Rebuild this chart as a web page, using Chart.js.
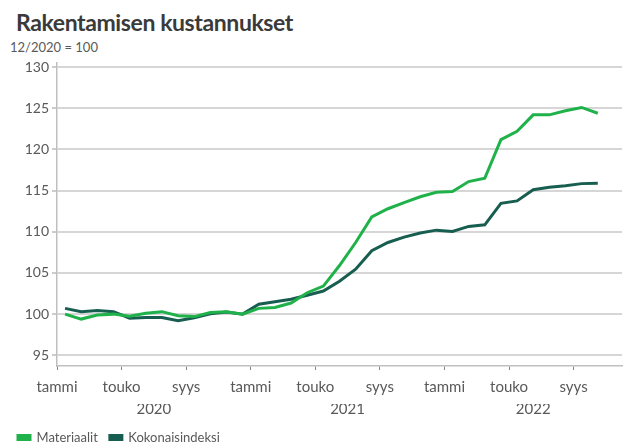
<!DOCTYPE html>
<html>
<head>
<meta charset="utf-8">
<script src="https://cdn.jsdelivr.net/npm/chart.js@4/dist/chart.umd.min.js"></script>
<style>
  html, body { margin: 0; padding: 0; background: #fff; }
  #wrap { position: relative; width: 632px; height: 444px; }
  #title { position: absolute; left: 16px; top: 8px; font: 700 23px Lato, sans-serif; color: #3a3a3a; letter-spacing: -0.4px; }
  #subtitle { position: absolute; left: 10px; top: 39px; font: 13px Lato, sans-serif; color: #595959; }
  canvas { position: absolute; left: 0; top: 0; }
</style>
</head>
<body>
<div id="wrap">
  <div id="title">Rakentamisen kustannukset</div>
  <div id="subtitle">12/2020 = 100</div>
  <canvas id="chart" width="632" height="444"></canvas>
</div>
<script>
// ===== Data =====
const months = [
  "2020-01","2020-02","2020-03","2020-04","2020-05","2020-06","2020-07","2020-08","2020-09","2020-10","2020-11","2020-12",
  "2021-01","2021-02","2021-03","2021-04","2021-05","2021-06","2021-07","2021-08","2021-09","2021-10","2021-11","2021-12",
  "2022-01","2022-02","2022-03","2022-04","2022-05","2022-06","2022-07","2022-08","2022-09","2022-10"
];
const materiaalit = [
  100.0, 99.4, 99.9, 100.0, 99.75, 100.1, 100.3, 99.8, 99.7, 100.2, 100.3, 100.0,
  100.7, 100.8, 101.35, 102.6, 103.4, 105.9, 108.7, 111.8, 112.8, 113.55, 114.25, 114.8,
  114.9, 116.1, 116.5, 121.2, 122.2, 124.2, 124.2, 124.7, 125.1, 124.4
];
const kokonaisindeksi = [
  100.7, 100.3, 100.45, 100.3, 99.5, 99.6, 99.6, 99.2, 99.55, 100.05, 100.25, 100.0,
  101.2, 101.5, 101.8, 102.3, 102.8, 104.0, 105.45, 107.7, 108.7, 109.35, 109.85, 110.2,
  110.05, 110.65, 110.85, 113.45, 113.75, 115.1, 115.4, 115.6, 115.85, 115.9
];
const monthTicks = [0, 4, 8, 12, 16, 20, 24, 28, 32];
const monthTickLabels = ["tammi", "touko", "syys", "tammi", "touko", "syys", "tammi", "touko", "syys"];
const yearTicks = [6, 18, 29.5];
const yearLabels = ["2020", "2021", "2022"];
const yTicks = [95, 100, 105, 110, 115, 120, 125, 130];

// month i is drawn in the middle of its slot on the date axis
const toPoints = (arr) => arr.map((v, i) => ({ x: i + 0.5, y: v }));

const gray = "#595959";

new Chart(document.getElementById("chart"), {
  type: "line",
  data: {
    datasets: [
      {
        label: "Materiaalit",
        data: toPoints(materiaalit),
        borderColor: "#1fb24a",
        backgroundColor: "#1fb24a",
        borderWidth: 3,
        pointRadius: 0,
        tension: 0
      },
      {
        label: "Kokonaisindeksi",
        data: toPoints(kokonaisindeksi),
        borderColor: "#175e50",
        backgroundColor: "#175e50",
        borderWidth: 3,
        pointRadius: 0,
        tension: 0
      }
    ]
  },
  options: {
    responsive: false,
    animation: false,
    layout: { padding: { left: 6, right: 10, top: 63, bottom: -10 } },
    plugins: {
      legend: {
        position: "bottom",
        align: "start",
        labels: {
          color: gray,
          font: { family: "Lato", size: 13 },
          boxWidth: 12,
          boxHeight: 4,
          padding: 12
        }
      },
      tooltip: { enabled: false }
    },
    scales: {
      x: {
        type: "linear",
        min: 0,
        max: 35,
        afterBuildTicks: (s) => { s.ticks = monthTicks.map((v) => ({ value: v })); },
        ticks: {
          color: gray,
          font: { family: "Lato", size: 15 },
          padding: 8,
          maxRotation: 0,
          autoSkip: false,
          callback: (v) => monthTickLabels[monthTicks.indexOf(v)]
        },
        grid: { drawOnChartArea: false, tickLength: 4, color: "#888" },
        border: { color: "#bfbfbf", width: 1.5 }
      },
      year: {
        type: "linear",
        position: "bottom",
        axis: "x",
        min: 0,
        max: 35,
        afterBuildTicks: (s) => { s.ticks = yearTicks.map((v) => ({ value: v })); },
        afterFit: (s) => { s.height += 13; },
        ticks: {
          color: gray,
          font: { family: "Lato", size: 15 },
          padding: -12,
          maxRotation: 0,
          autoSkip: false,
          callback: (v) => yearLabels[yearTicks.indexOf(v)]
        },
        grid: { display: false },
        border: { display: false }
      },
      y: {
        min: 93.7,
        max: 130.5,
        afterBuildTicks: (s) => { s.ticks = yTicks.map((v) => ({ value: v })); },
        afterFit: (s) => { s.width = 51; },
        ticks: {
          color: gray,
          font: { family: "Lato", size: 14 },
          padding: 3
        },
        grid: { color: "#d6d6d6", lineWidth: 2, tickLength: 5, tickColor: "#999", tickWidth: 1 },
        border: { color: "#bfbfbf", width: 1.5 }
      }
    }
  }
});
</script>
</body>
</html>
